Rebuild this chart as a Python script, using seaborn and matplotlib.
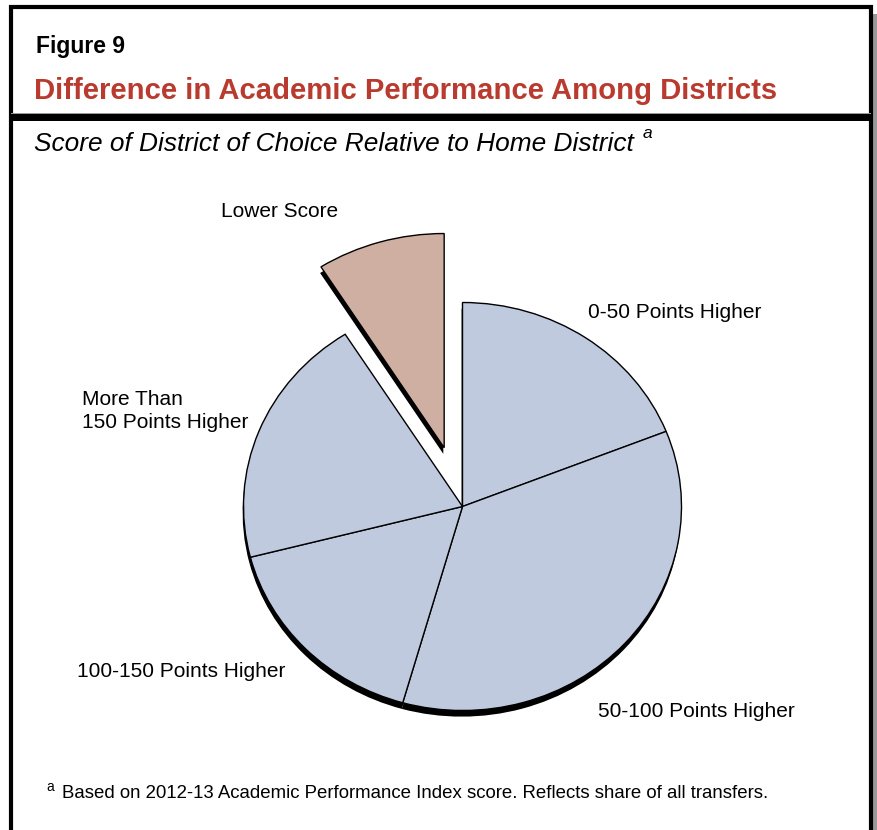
import matplotlib
matplotlib.use("Agg")
import matplotlib.pyplot as plt
from matplotlib.patches import Rectangle
import seaborn as sns

# Share of transfers by score difference (district of choice vs. home district)
categories = ["0-50 Points Higher", "50-100 Points Higher", "100-150 Points Higher",
              "More Than\n150 Points Higher", "Lower Score"]
shares = [19, 35.4, 16.6, 20, 9]
explode = [0, 0, 0, 0, 0.3]

title = "Difference in Academic Performance Among Districts"
figure_label = "Figure 9"
subtitle = "Score of District of Choice Relative to Home District"
footnote = "Based on 2012-13 Academic Performance Index score. Reflects share of all transfers."

sns.set_theme(style="white")
plt.rcParams["font.family"] = ["Liberation Sans", "DejaVu Sans"]

W, H = 877, 830
fig = plt.figure(figsize=(W / 100, H / 100), dpi=100)
fig.patch.set_facecolor("white")

# Background axes in pixel coordinates for frame and text
bg = fig.add_axes([0, 0, 1, 1])
bg.set_xlim(0, W)
bg.set_ylim(H, 0)
bg.axis("off")

# frame with drop shadow on the right
bg.add_patch(Rectangle((872, 14), 5, H, facecolor="#999999", edgecolor="none", zorder=1))
bg.add_patch(Rectangle((11, 7), 860, H + 10, facecolor="white", edgecolor="black",
                       linewidth=3, zorder=2))
bg.add_patch(Rectangle((11, 113), 860, 1, facecolor="#999999", edgecolor="none", zorder=3))
bg.add_patch(Rectangle((11, 114), 860, 7, facecolor="black", edgecolor="none", zorder=3))

red = "#B93A2E"
bg.text(36, 46, figure_label, fontsize=16.5, fontweight="bold", color="black",
        ha="left", va="center", zorder=5)
bg.text(34, 91, title, fontsize=21.1, fontweight="bold", color=red,
        ha="left", va="center", zorder=5)
bg.text(34, 144, subtitle, fontsize=18.9, style="italic", color="black",
        ha="left", va="center", zorder=5)
bg.text(643, 133, "a", fontsize=12.5, style="italic", color="black",
        ha="left", va="center", zorder=5)
bg.text(46, 787, "a", fontsize=10, color="black", ha="left", va="center", zorder=5)
bg.text(62, 793, footnote, fontsize=13.4, color="black", ha="left", va="center", zorder=5)

# Pie axes: unit radius maps to an ellipse rx x ry pixels
cx, cy = 462.5, 506.5
rx, ry = 219.0, 204.0
span = 1.5
pax = fig.add_axes([(cx - span * rx) / W, (H - cy - span * ry) / H,
                    2 * span * rx / W, 2 * span * ry / H])
pax.set_zorder(4)
pax.patch.set_alpha(0)

blue = "#BFCADF"
rose = "#D0AFA3"
colors = [blue, blue, blue, blue, rose]

# dark base giving the pie a little thickness
shadow, _ = pax.pie(shares, explode=explode, startangle=90, counterclock=False,
                    colors=["black"] * len(shares), center=(-0.004, -0.03),
                    wedgeprops=dict(linewidth=0))
wedges, _ = pax.pie(shares, explode=explode, startangle=90, counterclock=False,
                    colors=colors, center=(0, 0),
                    wedgeprops=dict(edgecolor="black", linewidth=1.0))
for w in (shadow[-1], wedges[-1]):
    w.set_radius(1.05)
pax.set_aspect("auto")
pax.set_xlim(-span, span)
pax.set_ylim(-span, span)
pax.axis("off")

# slice labels
label_pos = [(588, 312, "left"), (598, 711, "left"), (77, 671, "left"),
             (82, 411, "left"), (280, 211, "center")]
for name, (x, y, ha) in zip(categories, label_pos):
    bg.text(x, y, name, fontsize=15, color="black", ha=ha, va="center",
            linespacing=1.25, zorder=5)

fig.savefig("out.png", dpi=100)
